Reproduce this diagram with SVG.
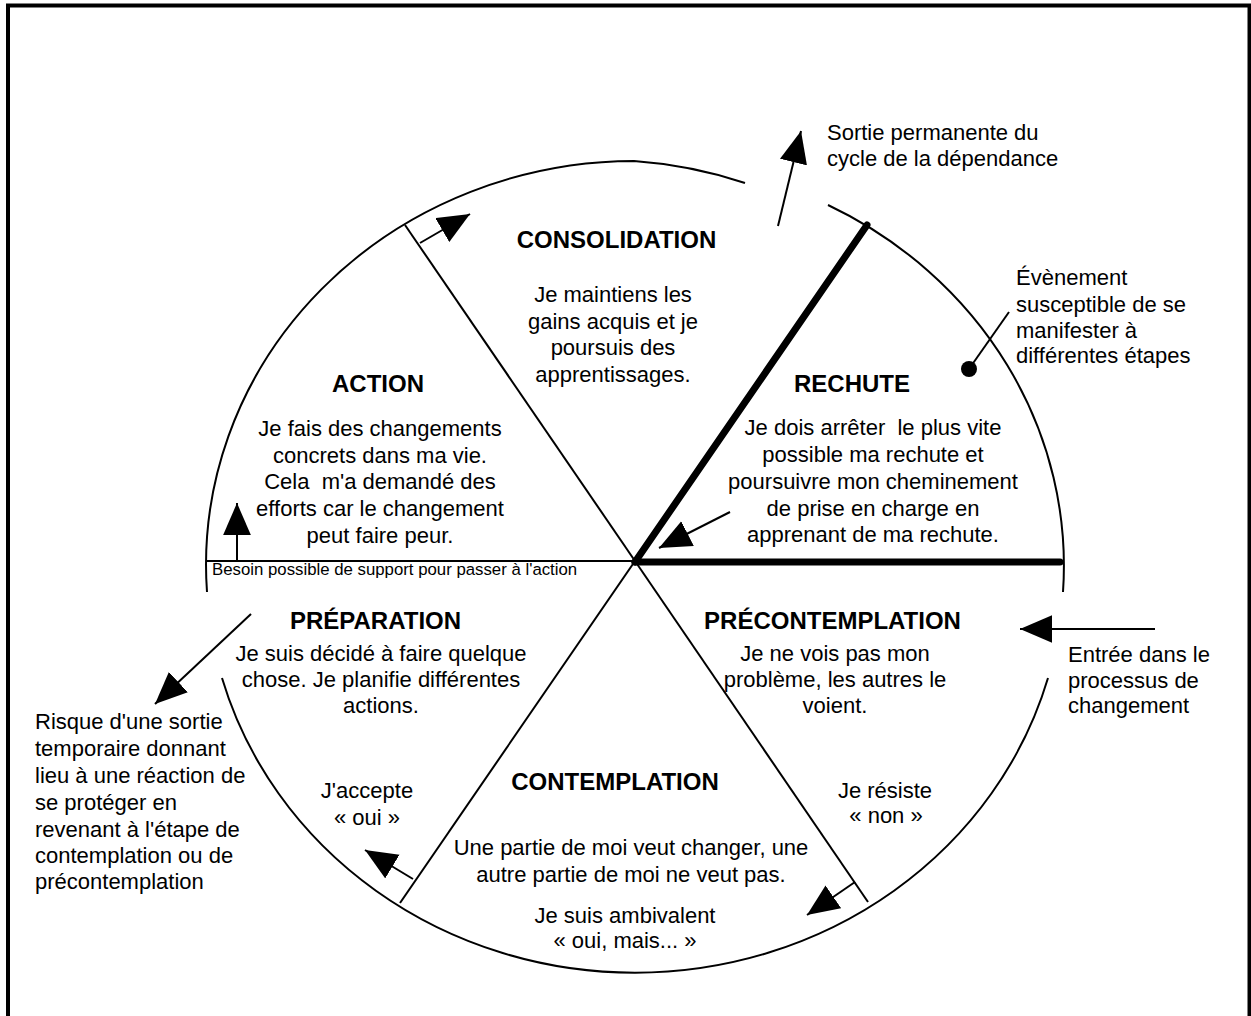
<svg xmlns="http://www.w3.org/2000/svg" width="1251" height="1016" viewBox="0 0 1251 1016">
<style>
  text { font-family: "Liberation Sans", Arial, sans-serif; fill: #000; }
  .t { font-size: 24px; font-weight: bold; text-anchor: middle; }
  .b { font-size: 22px; text-anchor: middle; }
  .l { font-size: 22px; }
  .s { font-size: 16.8px; }
  .thin { stroke: #000; stroke-width: 2; fill: none; }
  .thick { stroke: #000; stroke-width: 7; fill: none; stroke-linecap: round; }
  .arr { stroke: #000; stroke-width: 2; fill: none; marker-end: url(#ah); }
</style>
<defs>
  <marker id="ah" markerUnits="userSpaceOnUse" markerWidth="32" markerHeight="28" viewBox="0 0 30 26" refX="30" refY="13" orient="auto">
    <path d="M0,0 L30,13 L0,26 z" fill="#000"/>
  </marker>
</defs>
<rect x="8" y="5.5" width="1241.5" height="1040" fill="none" stroke="#000" stroke-width="4"/>

<g id="wheel">
  <path class="thin" d="M207,592 A429,404 0 0 1 634,161 A429,404 0 0 1 745,183"/>
  <path class="thin" d="M828,205 A429,404 0 0 1 1063,592"/>
  <path class="thin" d="M1048,678 A429,404 0 0 1 222,678"/>
  <line class="thin" x1="405" y1="225" x2="635" y2="561"/>
  <line class="thin" x1="635" y1="561" x2="868" y2="902"/>
  <line class="thin" x1="635" y1="561" x2="400" y2="903"/>
  <line class="thin" x1="207" y1="561" x2="635" y2="561"/>
  <line class="thick" x1="635" y1="562" x2="867" y2="225"/>
  <line class="thick" x1="635" y1="562" x2="1060" y2="562"/>
</g>

<g id="connectors">
  <line class="arr" x1="778" y1="226" x2="801" y2="131"/>
  <line class="arr" x1="420" y1="243" x2="470" y2="214"/>
  <line class="arr" x1="237" y1="560" x2="237" y2="503"/>
  <line class="arr" x1="730" y1="512" x2="659" y2="548"/>
  <line class="arr" x1="251" y1="614" x2="155" y2="704"/>
  <line class="arr" x1="413" y1="879" x2="365" y2="850"/>
  <line class="arr" x1="855" y1="882" x2="807" y2="915"/>
  <line class="arr" x1="1155" y1="629" x2="1020" y2="629"/>
  <line class="thin" x1="969" y1="369" x2="1009" y2="312"/>
  <circle cx="969" cy="369" r="8" fill="#000"/>
</g>

<g id="consolidation">
  <text class="t" x="616.5" y="248">CONSOLIDATION</text>
  <text class="b" x="613" y="302">Je maintiens les</text>
  <text class="b" x="613" y="328.5">gains acquis et je</text>
  <text class="b" x="613" y="355">poursuis des</text>
  <text class="b" x="613" y="381.5">apprentissages.</text>
</g>

<g id="action">
  <text class="t" x="378" y="392">ACTION</text>
  <text class="b" x="380" y="436">Je fais des changements</text>
  <text class="b" x="380" y="462.5">concrets dans ma vie.</text>
  <text class="b" x="380" y="489" xml:space="preserve">Cela  m'a demandé des</text>
  <text class="b" x="380" y="516">efforts car le changement</text>
  <text class="b" x="380" y="542.5">peut faire peur.</text>
</g>

<g id="rechute">
  <text class="t" x="852" y="392">RECHUTE</text>
  <text class="b" x="873" y="435" xml:space="preserve">Je dois arrêter  le plus vite</text>
  <text class="b" x="873" y="462">possible ma rechute et</text>
  <text class="b" x="873" y="489">poursuivre mon cheminement</text>
  <text class="b" x="873" y="515.5">de prise en charge en</text>
  <text class="b" x="873" y="542">apprenant de ma rechute.</text>
</g>

<g id="preparation">
  <text class="t" x="375.5" y="629">PRÉPARATION</text>
  <text class="b" x="381" y="661">Je suis décidé à faire quelque</text>
  <text class="b" x="381" y="687">chose. Je planifie différentes</text>
  <text class="b" x="381" y="713">actions.</text>
</g>

<g id="precontemplation">
  <text class="t" x="832.5" y="629">PRÉCONTEMPLATION</text>
  <text class="b" x="835" y="661">Je ne vois pas mon</text>
  <text class="b" x="835" y="687">problème, les autres le</text>
  <text class="b" x="835" y="713">voient.</text>
</g>

<g id="contemplation">
  <text class="t" x="615" y="790">CONTEMPLATION</text>
  <text class="b" x="631" y="855">Une partie de moi veut changer, une</text>
  <text class="b" x="631" y="882">autre partie de moi ne veut pas.</text>
  <text class="b" x="625" y="923">Je suis ambivalent</text>
  <text class="b" x="625" y="948">« oui, mais... »</text>
</g>

<g id="accepte">
  <text class="b" x="367" y="798">J'accepte</text>
  <text class="b" x="367" y="825">« oui »</text>
</g>

<g id="resiste">
  <text class="b" x="885" y="798">Je résiste</text>
  <text class="b" x="886" y="823">« non »</text>
</g>

<g id="besoin">
  <text class="s" x="212" y="575">Besoin possible de support pour passer à l'action</text>
</g>

<g id="sortie">
  <text class="l" x="827" y="140">Sortie permanente du</text>
  <text class="l" x="827" y="166">cycle de la dépendance</text>
</g>

<g id="evenement">
  <text class="l" x="1016" y="285">Évènement</text>
  <text class="l" x="1016" y="312">susceptible de se</text>
  <text class="l" x="1016" y="338">manifester à</text>
  <text class="l" x="1016" y="363">différentes étapes</text>
</g>

<g id="entree">
  <text class="l" x="1068" y="662">Entrée dans le</text>
  <text class="l" x="1068" y="688">processus de</text>
  <text class="l" x="1068" y="713">changement</text>
</g>

<g id="risque">
  <text class="l" x="35" y="729">Risque d'une sortie</text>
  <text class="l" x="35" y="756">temporaire donnant</text>
  <text class="l" x="35" y="783">lieu à une réaction de</text>
  <text class="l" x="35" y="810">se protéger en</text>
  <text class="l" x="35" y="837">revenant à l'étape de</text>
  <text class="l" x="35" y="863">contemplation ou de</text>
  <text class="l" x="35" y="889">précontemplation</text>
</g>
</svg>
